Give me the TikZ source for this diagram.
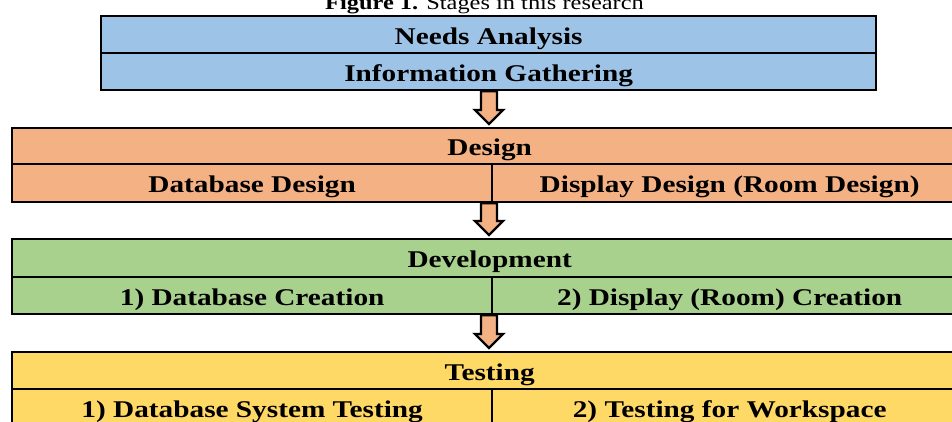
\documentclass[tikz,border=0pt]{standalone}
\usepackage{fontspec}
\setmainfont[FakeStretch=1.22]{Liberation Serif}
\usetikzlibrary{calc}
\definecolor{cblue}{HTML}{9DC3E6}
\definecolor{corange}{HTML}{F4B183}
\definecolor{cgreen}{HTML}{A9D18E}
\definecolor{cyellow}{HTML}{FFD966}
\newcommand\stagearrow[2]{%
  \draw[flowarrow] let \p1=(#1.south), \p2=(#2.north) in
    (481pt,\y1) -- (497pt,\y1) -- (497pt,\y2+17pt) -- (503pt,\y2+17pt)
    -- (489pt,\y2+3pt) -- (475pt,\y2+17pt) -- (481pt,\y2+17pt) -- cycle;}
\begin{document}
\begin{tikzpicture}[x=1pt,y=-1pt,
  cell/.style={draw=black, line width=2.3pt, rectangle, inner sep=0pt,
    anchor=north west, text height=22pt, text depth=3pt,
    font=\fontsize{24}{28}\selectfont\bfseries},
  flowarrow/.style={draw=black, line width=2.3pt, fill=corange, line join=miter}]
\useasboundingbox (0,0) rectangle (952,421);
\clip (0,0) rectangle (952,421);
\node[anchor=base, font=\fontsize{20}{24}\selectfont] (title) at (484.5,9)
  {\textbf{Figure 1.} Stages in this research};
% Stage 1
\node[cell, fill=cblue, minimum width=775pt, minimum height=37pt] (na) at (100,15) {Needs Analysis};
\node[cell, fill=cblue, minimum width=775pt, minimum height=37pt] (ig) at (100,52) {Information Gathering};
% Stage 2
\node[cell, fill=corange, minimum width=955pt, minimum height=36pt] (ds) at (11,127) {Design};
\node[cell, fill=corange, minimum width=480pt, minimum height=38pt] (dd) at (11,163) {Database Design};
\node[cell, fill=corange, minimum width=475pt, minimum height=38pt] (dp) at (491,163) {Display Design (Room Design)};
% Stage 3
\node[cell, fill=cgreen, minimum width=955pt, minimum height=38pt] (dv) at (11,238) {Development};
\node[cell, fill=cgreen, minimum width=480pt, minimum height=37pt] (dc) at (11,276) {1) Database Creation};
\node[cell, fill=cgreen, minimum width=475pt, minimum height=37pt] (rc) at (491,276) {2) Display (Room) Creation};
% Stage 4
\node[cell, fill=cyellow, minimum width=955pt, minimum height=37pt] (ts) at (11,351) {Testing};
\node[cell, fill=cyellow, minimum width=480pt, minimum height=37pt] (st) at (11,388) {1) Database System Testing};
\node[cell, fill=cyellow, minimum width=475pt, minimum height=37pt] (tw) at (491,388) {2) Testing for Workspace};
% Arrows
\stagearrow{ig}{ds}
\stagearrow{dd}{dv}
\stagearrow{dc}{ts}
\end{tikzpicture}
\end{document}
